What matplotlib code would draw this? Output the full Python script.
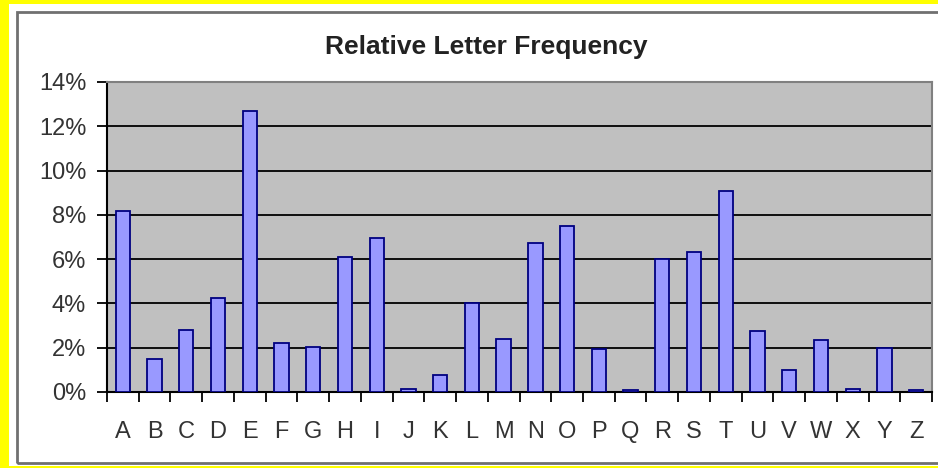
import matplotlib.pyplot as plt
import matplotlib.patches as mpatches
import numpy as np

plt.rcParams['font.family'] = ['Liberation Sans', 'DejaVu Sans']

letters = list("ABCDEFGHIJKLMNOPQRSTUVWXYZ")
freq = [8.17, 1.49, 2.78, 4.25, 12.70, 2.23, 2.02, 6.09, 6.97, 0.15, 0.77, 4.03, 2.41,
        6.75, 7.51, 1.93, 0.10, 5.99, 6.33, 9.06, 2.76, 0.98, 2.36, 0.15, 1.97, 0.07]
yticks = [0, 2, 4, 6, 8, 10, 12, 14]
ytick_labels = ["%d%%" % v for v in yticks]

W, H = 938, 468
fig = plt.figure(figsize=(W / 100, H / 100), dpi=100)
fig.patch.set_facecolor("#ffff00")

# white chart area with grey frame
fig.patches.append(mpatches.Rectangle((9 / W, 2 / H), 1.0, 462 / H, transform=fig.transFigure,
                                      facecolor="white", edgecolor="none", zorder=-2))
fig.patches.append(mpatches.Rectangle((17 / W, 5 / H), 1.0, 451 / H, transform=fig.transFigure,
                                      facecolor="none", edgecolor="#707070", lw=2, zorder=-1))

ax = fig.add_axes([107 / W, 1 - 392 / H, (932 - 107) / W, (392 - 82) / H])
ax.set_facecolor("#c0c0c0")

x = np.arange(len(letters))
ax.bar(x, freq, width=0.45, color="#9999ff", edgecolor="#000080", linewidth=1.3, zorder=3)

ax.set_xlim(-0.5, len(letters) - 0.5)
ax.set_ylim(0, 14)
ax.set_yticks(yticks)
ax.set_yticklabels(ytick_labels)
ax.yaxis.grid(True, color="black", linewidth=1.3, zorder=1)
ax.set_axisbelow(True)

ax.set_xticks(x)
ax.set_xticklabels(letters)
ax.set_xticks(np.arange(-0.5, len(letters)), minor=True)
ax.tick_params(axis="x", which="major", length=0, pad=21, labelsize=17, labelcolor="#333333")
ax.tick_params(axis="x", which="minor", length=7, width=1.3, color="black", direction="out")
ax.tick_params(axis="y", length=7, width=1.3, pad=8, labelsize=17, labelcolor="#333333")

for s in ["top", "right"]:
    ax.spines[s].set_color("#808080")
    ax.spines[s].set_linewidth(1.5)
for s in ["left", "bottom"]:
    ax.spines[s].set_color("black")
    ax.spines[s].set_linewidth(1.5)

fig.text(486 / W, 1 - 47 / H, "Relative Letter Frequency", ha="center", va="center",
         fontsize=19, fontweight="bold", color="#222222")

fig.savefig("out.png", dpi=100, facecolor=fig.get_facecolor())
